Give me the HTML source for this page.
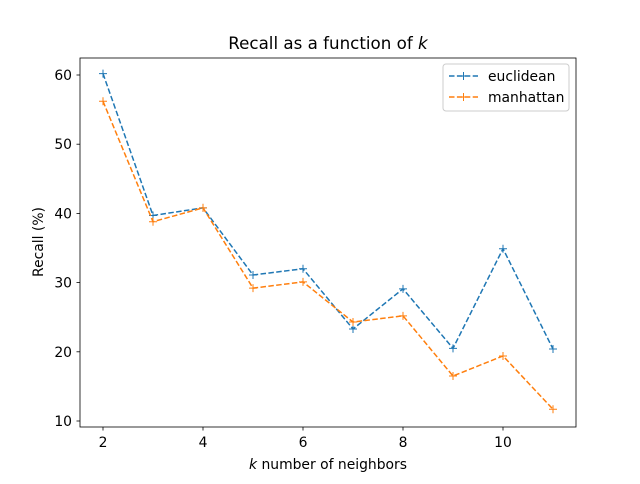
<!DOCTYPE html>
<html><head><meta charset="utf-8"><style>
body{margin:0;background:#fff;font-family:"DejaVu Sans","Liberation Sans",sans-serif;}
</style></head><body>
<svg id="chart" width="640" height="480" xmlns="http://www.w3.org/2000/svg" font-family="DejaVu Sans, Liberation Sans, sans-serif">
<rect width="640" height="480" fill="#fff"/>
<g id="plot"></g>
</svg>
<script>
const categories=[2,3,4,5,6,7,8,9,10,11];
const euclidean=[60.2,39.7,40.8,31.1,32.0,23.3,29.1,20.5,34.9,20.4];
const manhattan=[56.2,38.8,40.8,29.2,30.1,24.3,25.2,16.5,19.4,11.7];
const xTicks=[2,4,6,8,10];
const yTicks=[10,20,30,40,50,60];
const seriesNames=["euclidean","manhattan"];
const NS="http://www.w3.org/2000/svg";
const g=document.getElementById('plot');
const X=v=>103+(v-2)*50;
const Y=v=>421-(v-10)*6.92;
function el(t,a,p){const e=document.createElementNS(NS,t);for(const k in a)e.setAttribute(k,a[k]);(p||g).appendChild(e);return e;}
const frame=el('rect',{x:80,y:58,width:496,height:369,fill:'none',stroke:'#000','stroke-width':0.8});


xTicks.forEach(v=>{
 const l=el('line',{x1:X(v),x2:X(v),y1:427,y2:430.5,stroke:'#000','stroke-width':0.8});
 
 
 const t=el('text',{x:X(v),y:447,'font-size':13.9,'text-anchor':'middle'});t.textContent=v;
 
 
});
yTicks.forEach(v=>{
 const l=el('line',{x1:76.5,x2:80,y1:Y(v),y2:Y(v),stroke:'#000','stroke-width':0.8});
 
 
 const t=el('text',{x:72,y:Y(v)+5,'font-size':13.9,'text-anchor':'end'});t.textContent=v;
 
 
});
const colors=['#1f77b4','#ff7f0e'];
[euclidean,manhattan].forEach((s,i)=>{
 const pts=s.map((v,j)=>X(categories[j])+','+Y(v)).join(' ');
 const pl=el('polyline',{points:pts,fill:'none',stroke:colors[i],'stroke-width':1.5,'stroke-dasharray':'5.5,2.4'});
 
 
 s.forEach((v,j)=>{
  const m=el('path',{d:`M${X(categories[j])-4},${Y(v)}h8M${X(categories[j])},${Y(v)-4}v8`,stroke:colors[i],'stroke-width':1});
  
  
 });
});
const title=el('text',{x:328,y:49,'font-size':16.7,'text-anchor':'middle'});
title.innerHTML='Recall as a function of <tspan font-style="italic">k</tspan>';


const xl=el('text',{x:328,y:469,'font-size':13.9,'text-anchor':'middle'});
xl.innerHTML='<tspan font-style="italic">k</tspan> number of neighbors';


const yl=el('text',{x:0,y:0,'font-size':13.9,'text-anchor':'middle',transform:'translate(43,242) rotate(-90)'});
yl.textContent='Recall (%)';


const lg=el('rect',{x:443,y:64,width:126,height:47,rx:3,fill:'#fff',stroke:'#ccc','stroke-width':1});


seriesNames.forEach((n,i)=>{
 const y=76+i*21;
 const l=el('line',{x1:449,x2:478,y1:y,y2:y,stroke:colors[i],'stroke-width':1.5,'stroke-dasharray':'5.5,2.4'});
 
 
 const m=el('path',{d:`M459.5,${y}h8M463.5,${y-4}v8`,stroke:colors[i],'stroke-width':1});
 
 
 const t=el('text',{x:488,y:y+5,'font-size':13.9});t.textContent=n;
 
 
});
</script>
</body></html>
